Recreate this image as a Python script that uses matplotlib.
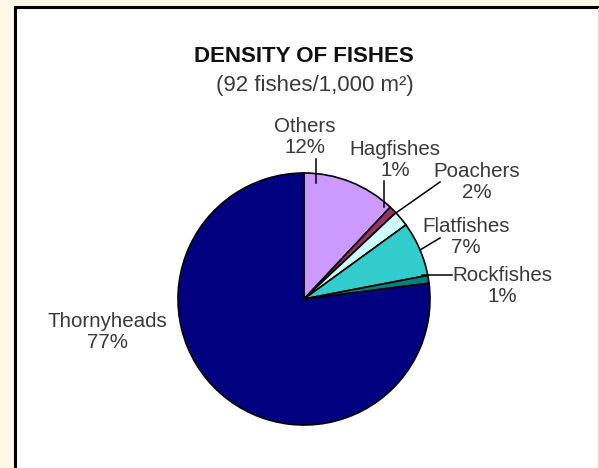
import matplotlib.pyplot as plt
from matplotlib.patches import Rectangle

# ---- data (clockwise from 12 o'clock) ----
species = ['Others', 'Hagfishes', 'Poachers', 'Flatfishes', 'Rockfishes', 'Thornyheads']
percent = [12, 1, 2, 7, 1, 77]
colors = ['#CC99FF', '#993366', '#CCFFFF', '#33CCCC', '#008080', '#000080']

title = 'DENSITY OF FISHES'
subtitle = '(92 fishes/1,000 m\u00b2)'

# ---- layout (image pixel coords, y measured from top) ----
W, H = 599, 468
label_pos = {
    'Others': (305, 137),
    'Hagfishes': (395, 160),
    'Poachers': (477, 182),
    'Flatfishes': (466, 237),
    'Rockfishes': (502, 286),
    'Thornyheads': (107, 332),
}
leaders = {
    'Others': [(316, 159), (316, 183)],
    'Hagfishes': [(384, 181), (384, 207)],
    'Poachers': [(440, 182), (393, 215)],
    'Flatfishes': [(440, 238), (420, 250)],
    'Rockfishes': [(452, 275), (422, 275)],
}
pie_center = (304, 299)
pie_radius = 126


def px(x, y):
    return x, H - y


plt.rcParams['font.family'] = ['Liberation Sans', 'DejaVu Sans']

fig = plt.figure(figsize=(W / 100, H / 100), dpi=100)
fig.patch.set_facecolor('#FFF8E8')
ax = fig.add_axes([0, 0, 1, 1])

# white panel with black frame
ax.add_patch(Rectangle(px(14.5, H + 10), 700, H + 10 - 6.5,
                       facecolor='white', edgecolor='black', lw=2.2, zorder=0))
ax.plot([597.5, 597.5], [0, H - 8], color='#D8D8D8', lw=0.8, zorder=1)

ax.pie(percent, colors=colors, startangle=90, counterclock=False,
       center=px(*pie_center), radius=pie_radius,
       wedgeprops=dict(edgecolor='black', linewidth=1.2))

for name, pct in zip(species, percent):
    x, y = px(*label_pos[name])
    ax.text(x, y, f'{name}\n{pct}%', ha='center', va='center',
            multialignment='center', fontsize=14.8, color='#3a3a3a',
            linespacing=1.12)
    if name in leaders:
        (x0, y0), (x1, y1) = leaders[name]
        ax.plot([x0, x1], [H - y0, H - y1], color='black', lw=1.1)

ax.text(*px(304, 57), title, ha='center', va='center', fontsize=16,
        fontweight='bold', color='#111111')
ax.text(*px(315, 86), subtitle, ha='center', va='center', fontsize=16,
        color='#3a3a3a')

ax.set_xlim(0, W)
ax.set_ylim(0, H)
ax.set_aspect('equal')
ax.axis('off')

fig.savefig('out.png', dpi=100, facecolor=fig.get_facecolor())
